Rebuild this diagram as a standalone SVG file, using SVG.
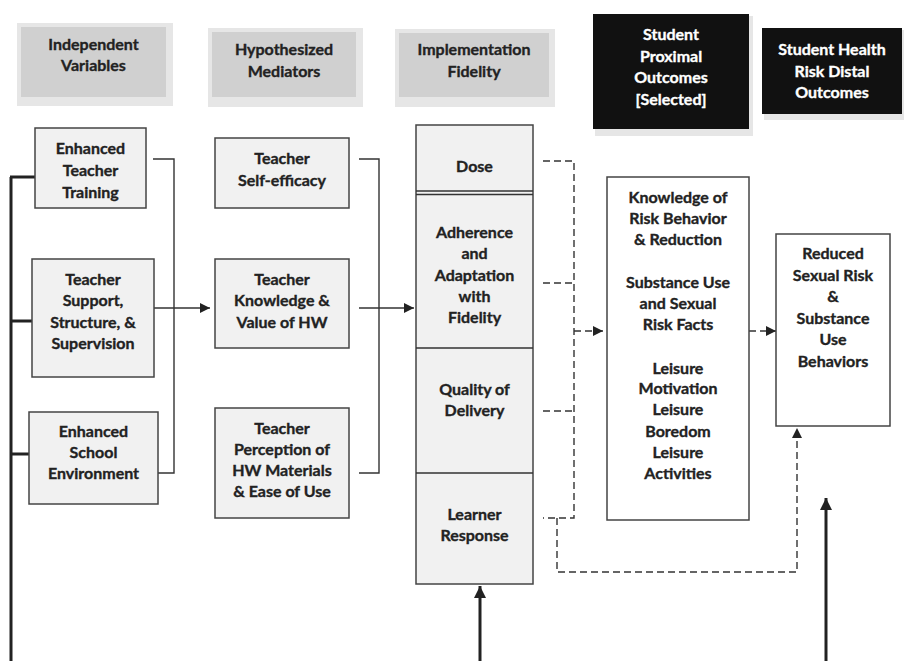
<svg xmlns="http://www.w3.org/2000/svg" width="906" height="661" viewBox="0 0 906 661">
<style>
text{font-family:Lato,"Liberation Sans",sans-serif;font-weight:bold;font-size:16px;fill:#222;stroke:#222;stroke-width:0.35;text-anchor:middle}
.hdr text{font-size:16px}
.blk text{fill:#fff;stroke:#fff}
.box{fill:#f1f1f1;stroke:#444;stroke-width:1.5}
.wbox{fill:#fff;stroke:#444;stroke-width:1.5}
.hbox{fill:#d0d0d0}
.shadow{fill:#e6e6e6}
.ln{fill:none;stroke:#333;stroke-width:1.4}
.thick{fill:none;stroke:#222;stroke-width:3}
.dash{fill:none;stroke:#333;stroke-width:1.4;stroke-dasharray:7 4}
</style>
<defs>
<marker id="ah" viewBox="0 0 10 10" refX="10" refY="5" markerWidth="11" markerHeight="10" markerUnits="userSpaceOnUse" orient="auto"><path d="M0 0 L10 5 L0 10 z" fill="#222"/></marker>
<marker id="ahs" viewBox="0 0 10 10" refX="10" refY="5" markerWidth="14" markerHeight="12" markerUnits="userSpaceOnUse" orient="auto"><path d="M0 0 L10 5 L0 10 z" fill="#222"/></marker>
</defs>
<rect width="906" height="661" fill="#fff"/>

<g id="hdr-iv" class="hdr">
<rect class="shadow" x="17" y="23" width="156" height="83"/>
<rect class="hbox" x="21" y="27" width="145" height="70"/>
<text x="93.5" y="50">Independent</text><text x="93.5" y="71">Variables</text>
</g>
<g id="hdr-hm" class="hdr">
<rect class="shadow" x="208" y="28" width="155" height="79"/>
<rect class="hbox" x="212" y="32" width="144" height="65"/>
<text x="284" y="55">Hypothesized</text><text x="284" y="77">Mediators</text>
</g>
<g id="hdr-if" class="hdr">
<rect class="shadow" x="395" y="29" width="160" height="78"/>
<rect class="hbox" x="399" y="33" width="150" height="64"/>
<text x="474" y="55">Implementation</text><text x="474" y="77">Fidelity</text>
</g>
<g id="hdr-spo" class="hdr blk">
<rect class="shadow" x="595" y="16" width="158" height="120"/>
<rect fill="#111" x="593" y="14" width="156" height="115"/>
<text x="671" y="40">Student</text><text x="671" y="62">Proximal</text><text x="671" y="83">Outcomes</text><text x="671" y="105">[Selected]</text>
</g>
<g id="hdr-shrdo" class="hdr blk">
<rect class="shadow" x="764" y="30" width="140" height="90"/>
<rect fill="#111" x="762" y="28" width="140" height="86"/>
<text x="832" y="55">Student Health</text><text x="832" y="77">Risk Distal</text><text x="832" y="98">Outcomes</text>
</g>

<g id="connectors">
<path class="thick" d="M11 177 V661 M10 177 H35 M11 321 H32 M11 454 H29"/>
<path class="ln" d="M153 159 H174 V473 H158"/>
<path class="ln" d="M145 308 H210" marker-end="url(#ah)"/>
<path class="ln" d="M359 159 H379 V473 H359"/>
<path class="ln" d="M359 308 H414" marker-end="url(#ah)"/>
<path class="dash" d="M543 161 H574 V518 H543"/>
<path class="dash" d="M543 283 H574 M543 411 H574"/>
<path class="dash" d="M574 331 H603" stroke-dasharray="5 4" marker-end="url(#ah)"/>
<path class="dash" d="M557 518 V572 H797 V428" marker-end="url(#ah)"/>
<path class="dash" d="M749 331 H776" stroke-dasharray="5 4" marker-end="url(#ah)"/>
<path class="thick" d="M480 661 V586" marker-end="url(#ahs)"/>
<path class="thick" d="M826 661 V498" marker-end="url(#ahs)"/>
</g>

<g id="n-ett">
<rect class="box" x="35" y="128" width="111" height="80"/>
<text x="90.5" y="154">Enhanced</text><text x="90.5" y="176">Teacher</text><text x="90.5" y="198">Training</text>
</g>
<g id="n-tss">
<rect class="box" x="32" y="259" width="122" height="118"/>
<text x="93" y="285">Teacher</text><text x="93" y="306">Support,</text><text x="93" y="328">Structure, &amp;</text><text x="93" y="349">Supervision</text>
</g>
<g id="n-ese">
<rect class="box" x="29" y="412" width="129" height="92"/>
<text x="93.5" y="437">Enhanced</text><text x="93.5" y="458">School</text><text x="93.5" y="479">Environment</text>
</g>
<g id="n-tse">
<rect class="box" x="215" y="138" width="134" height="70"/>
<text x="282" y="164">Teacher</text><text x="282" y="186">Self-efficacy</text>
</g>
<g id="n-tkv">
<rect class="box" x="215" y="259" width="134" height="89"/>
<text x="282" y="285">Teacher</text><text x="282" y="306">Knowledge &amp;</text><text x="282" y="328">Value of HW</text>
</g>
<g id="n-tpm">
<rect class="box" x="215" y="408" width="134" height="110"/>
<text x="282" y="434">Teacher</text><text x="282" y="455">Perception of</text><text x="282" y="476">HW Materials</text><text x="282" y="497">&amp; Ease of Use</text>
</g>
<g id="n-fidelity">
<rect class="box" x="416" y="125" width="117" height="459"/>
<path class="ln" d="M416 191 H533 M416 194.5 H533 M416 348 H533 M416 473 H533"/>
<text x="474.5" y="172">Dose</text>
<text x="474.5" y="238">Adherence</text><text x="474.5" y="259">and</text><text x="474.5" y="281">Adaptation</text><text x="474.5" y="302">with</text><text x="474.5" y="323">Fidelity</text>
<text x="474.5" y="395">Quality of</text><text x="474.5" y="416">Delivery</text>
<text x="474.5" y="520">Learner</text><text x="474.5" y="541">Response</text>
</g>
<g id="n-proximal">
<rect class="wbox" x="607" y="177" width="142" height="343"/>
<text x="678" y="203">Knowledge of</text><text x="678" y="224">Risk Behavior</text><text x="678" y="245">&amp; Reduction</text>
<text x="678" y="288">Substance Use</text><text x="678" y="309">and Sexual</text><text x="678" y="330">Risk Facts</text>
<text x="678" y="374">Leisure</text><text x="678" y="394">Motivation</text><text x="678" y="415">Leisure</text><text x="678" y="437">Boredom</text><text x="678" y="458">Leisure</text><text x="678" y="479">Activities</text>
</g>
<g id="n-distal">
<rect class="wbox" x="776" y="234" width="114" height="192"/>
<text x="833" y="259">Reduced</text><text x="833" y="281">Sexual Risk</text><text x="833" y="302">&amp;</text><text x="833" y="324">Substance</text><text x="833" y="345">Use</text><text x="833" y="367">Behaviors</text>
</g>
</svg>
